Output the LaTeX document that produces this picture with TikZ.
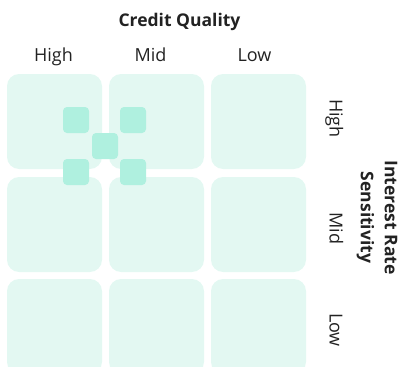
\documentclass[tikz,border=0pt]{standalone}
\usepackage{fontspec}
\setmainfont{Open Sans}
\definecolor{cellfill}{HTML}{E3F8F2}
\definecolor{markfill}{HTML}{AFF0DF}
\definecolor{labeltext}{HTML}{222222}

\begin{document}
\begin{tikzpicture}[x=1pt,y=-1pt,
        cell/.style={fill=cellfill,rounded corners=12pt,minimum size=95pt,inner sep=0pt},
        marker/.style={fill=markfill,rounded corners=4pt,minimum size=26pt,inner sep=0pt},
        lbl/.style={text=labeltext,inner sep=0pt,font=\fontsize{18}{22}\selectfont},
        head/.style={lbl,font=\fontsize{17.5}{24}\selectfont\bfseries}]
    \useasboundingbox (0,0) rectangle (400,367);

    % 3x3 grid: credit quality across, rate sensitivity down
    \node[cell] (hh) at (54.5,121.5) {};
    \node[cell] (mh) at (156.5,121.5) {};
    \node[cell] (lh) at (258.5,121.5) {};

    \node[cell] (hm) at (54.5,224.5) {};
    \node[cell] (mm) at (156.5,224.5) {};
    \node[cell] (lm) at (258.5,224.5) {};

    \node[cell] (hl) at (54.5,326.5) {};
    \node[cell] (ml) at (156.5,326.5) {};
    \node[cell] (ll) at (258.5,326.5) {};

    % markers over the high/mid corner
    \node[marker] (m1) at (76,120) {};
    \node[marker] (m2) at (133,120) {};
    \node[marker] (m3) at (105,146) {};
    \node[marker] (m4) at (76,172) {};
    \node[marker] (m5) at (133,172) {};

    % column labels
    \node[head,anchor=base] (title) at (179.5,26) {Credit Quality};
    \node[lbl,anchor=base] (colH) at (53.5,61.7) {High};
    \node[lbl,anchor=base] (colM) at (150.5,61.7) {Mid};
    \node[lbl,anchor=base] (colL) at (254.5,61.7) {Low};

    % row labels, turned
    \node[lbl,anchor=base,rotate=-90] (rowH) at (329.5,118.5) {High};
    \node[lbl,anchor=base,rotate=-90] (rowM) at (329.5,228.5) {Mid};
    \node[lbl,anchor=base,rotate=-90] (rowL) at (329.5,330) {Low};
    \node[head,align=center,anchor=north,rotate=-90] (side) at (397.5,217.5) {Interest Rate\\Sensitivity};
\end{tikzpicture}
\end{document}
